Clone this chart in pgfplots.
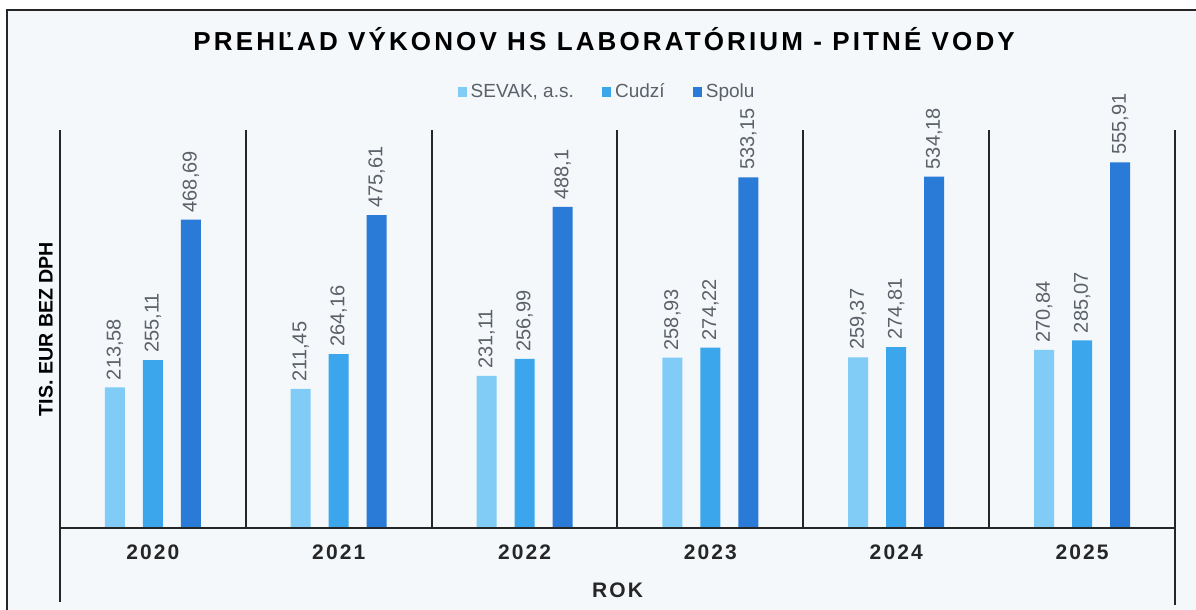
\documentclass[border=0pt]{standalone}
\usepackage{fontspec}
\setmainfont{Liberation Sans}
\newfontfamily\titlefont[LetterSpace=12]{Liberation Sans}
\newfontfamily\yearfont[LetterSpace=10]{Liberation Sans}
\usepackage{pgfplots}
\pgfplotsset{compat=1.18}

\definecolor{sevak}{RGB}{128,204,246}
\definecolor{cudzi}{RGB}{60,166,236}
\definecolor{spolu}{RGB}{42,122,215}
\definecolor{bgpaper}{RGB}{244,248,251}
\definecolor{lblgray}{RGB}{92,96,104}

\begin{document}
\begin{tikzpicture}
\useasboundingbox (0,0) rectangle (598pt,305pt);
\fill[white] (0,0) rectangle (598pt,305pt);
\fill[bgpaper] (3.5pt,0) rectangle (598pt,300pt);
\draw[line width=1pt, black!85] (3.5pt,0) -- (3.5pt,300pt) -- (598pt,300pt);

\begin{axis}[
    at={(30pt,41pt)}, anchor=south west,
    scale only axis, width=557.5pt, height=199pt,
    xmin=-0.5, xmax=5.5, ymin=0, ymax=605,
    ybar=9pt, bar width=10pt,
    axis line style={draw=none}, clip=false,
    xtick={0,...,5}, xticklabels={2020,2021,2022,2023,2024,2025},
    major tick length=0pt, ytick=\empty,
    xticklabel style={anchor=center, yshift=-12pt,
      font=\yearfont\bfseries\fontsize{10.5}{12}\selectfont, text=black!85},
    xlabel={ROK},
    xlabel style={at={(axis description cs:0.5,-0.156)}, anchor=center,
      font=\yearfont\bfseries\fontsize{10.5}{12}\selectfont, text=black!85},
    ylabel={TIS. EUR BEZ DPH},
    ylabel style={at={(axis description cs:-0.0126,0.5)}, anchor=center,
      font=\bfseries\fontsize{9.8}{12}\selectfont},
    title={PREHĽAD VÝKONOV HS LABORATÓRIUM - PITNÉ VODY},
    title style={at={(axis description cs:0.488,1.1985)}, anchor=center,
      font=\titlefont\bfseries\fontsize{13}{16}\selectfont},
    legend style={at={(axis description cs:0.4915,1.0955)}, anchor=center,
      draw=none, fill=none, legend columns=3,
      font=\fontsize{9.5}{11}\selectfont, text=lblgray,
      /tikz/every even column/.append style={column sep=12pt}},
    legend image code/.code={\fill[#1] (0pt,-2.3pt) rectangle (4.6pt,2.3pt);},
    nodes near coords={\pgfmathprintnumber[fixed,precision=2,use comma,1000 sep={},assume math mode=true]{\pgfplotspointmeta}},
    every node near coord/.append style={rotate=90, anchor=west, inner sep=3.5pt,
      font=\fontsize{10}{12}\selectfont, text=lblgray},
  ]
  \addplot[fill=sevak, draw=none] coordinates {
    (0,213.58)(1,211.45)(2,231.11)(3,258.93)(4,259.37)(5,270.84)};
  \addplot[fill=cudzi, draw=none] coordinates {
    (0,255.11)(1,264.16)(2,256.99)(3,274.22)(4,274.81)(5,285.07)};
  \addplot[fill=spolu, draw=none] coordinates {
    (0,468.69)(1,475.61)(2,488.1)(3,533.15)(4,534.18)(5,555.91)};
  \legend{{SEVAK, a.s.},Cudzí,Spolu}

  % frame lines
  \draw[line width=1pt, black!85] (rel axis cs:0,0) -- (rel axis cs:1,0);
  \draw[line width=1pt, black!85] (rel axis cs:0,1) -- (rel axis cs:0,-0.186);
  \draw[line width=1pt, black!85] (rel axis cs:1,1) -- (rel axis cs:1,-0.193);
  \draw[line width=1pt, black!85] (axis cs:0.5,0) -- (axis cs:0.5,605);
  \draw[line width=1pt, black!85] (axis cs:1.5,0) -- (axis cs:1.5,605);
  \draw[line width=1pt, black!85] (axis cs:2.5,0) -- (axis cs:2.5,605);
  \draw[line width=1pt, black!85] (axis cs:3.5,0) -- (axis cs:3.5,605);
  \draw[line width=1pt, black!85] (axis cs:4.5,0) -- (axis cs:4.5,605);
\end{axis}
\end{tikzpicture}
\end{document}
